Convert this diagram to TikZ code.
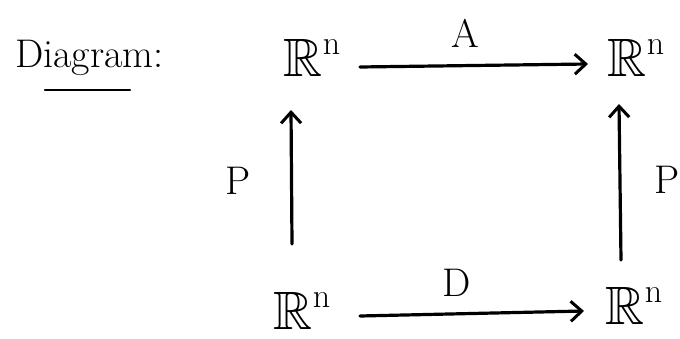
\documentclass[tikz,border=0pt]{standalone}
\usepackage{amssymb}
\usetikzlibrary{arrows.meta}
\newcommand{\Rn}{$\mathbb{R}$\raisebox{0.42em}{\fontsize{34}{34}\selectfont n}}
\begin{document}
\begin{tikzpicture}[x=1pt,y=-1pt,
  space/.style={inner sep=0pt,font=\fontsize{54}{60}\selectfont},
  lbl/.style={inner sep=0pt,font=\fontsize{40}{48}\selectfont},
  map/.style={line width=3.2pt,line cap=round,-{Straight Barb[length=11pt,width=20pt,line width=3pt]}}]
\useasboundingbox (0,0) rectangle (680,339);
\node[inner sep=0pt,anchor=west,font=\fontsize{40}{48}\selectfont] (title) at (15,58) {Diagram:};
\draw[line width=2.4pt,line cap=round] (45,90) -- (130,90);
\node[space] (tl) at (312,58) {\Rn};
\node[space] (tr) at (636,58) {\Rn};
\node[space] (bl) at (302,311) {\Rn};
\node[space] (br) at (634,306) {\Rn};
\coordinate (a0) at (360,67);
\coordinate (a1) at (588,64);
\coordinate (d0) at (360,316);
\coordinate (d1) at (584,311);
\coordinate (p0) at (292,244);
\coordinate (p1) at (291,110);
\coordinate (q0) at (621,260);
\coordinate (q1) at (619,104);
\draw[map] (a0) -- (a1);
\draw[map] (d0) -- (d1);
\draw[map] (p0) -- (p1);
\draw[map] (q0) -- (q1);
\node[lbl] (A) at (465,33) {A};
\node[lbl] (D) at (457,283) {D};
\node[lbl] (P1) at (238,181) {P};
\node[lbl] (P2) at (667,180) {P};
\end{tikzpicture}
\end{document}
